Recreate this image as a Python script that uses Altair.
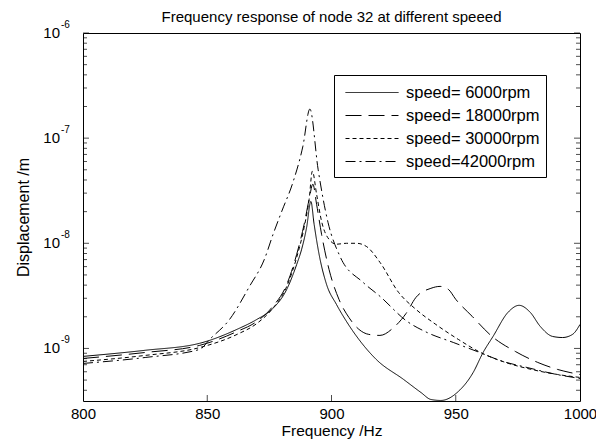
import altair as alt
import pandas as pd

speeds = ["speed= 6000rpm", "speed= 18000rpm", "speed= 30000rpm", "speed=42000rpm"]

f6 = [800, 825, 847, 862, 870, 876, 882, 886, 888, 890, 891.7, 893, 895, 898, 902, 906, 911, 918,
      929, 936, 940, 944, 951, 957, 961, 965, 971, 975.5, 980, 984, 989, 993, 997, 1000]
v6 = [8.4e-10, 9.6e-10, 1.12e-9, 1.52e-9, 1.89e-9, 2.35e-9, 3.65e-9, 6.3e-9, 8.8e-9, 1.42e-8, 2.5e-8,
      1.52e-8, 7.86e-9, 4.07e-9, 2.62e-9, 1.81e-9, 1.22e-9, 7.86e-10, 5.07e-10, 3.81e-10, 3.27e-10,
      3.2e-10, 3.89e-10, 5.9e-10, 9.15e-10, 1.30e-9, 2.2e-9, 2.57e-9, 2.2e-9, 1.62e-9, 1.30e-9,
      1.27e-9, 1.36e-9, 1.69e-9]

f18 = [800, 825, 847, 862, 870, 876, 882, 886, 889, 891, 892.5, 894, 896, 899, 903, 907, 911, 915,
       919.5, 925, 930, 934, 940, 943.7, 947, 950, 956.6, 964.6, 974, 983, 991, 996, 1000]
v18 = [8.03e-10, 9.15e-10, 1.07e-9, 1.45e-9, 1.81e-9, 2.45e-9, 4.07e-9, 7.86e-9, 1.52e-8, 2.62e-8,
       3.65e-8, 2.35e-8, 1.22e-8, 5.65e-9, 2.93e-9, 1.97e-9, 1.52e-9, 1.36e-9, 1.33e-9, 1.58e-9,
       2.15e-9, 3.06e-9, 3.73e-9, 3.89e-9, 3.65e-9, 2.93e-9, 2.02e-9, 1.30e-9, 9.35e-10, 7.36e-10,
       6.31e-10, 5.9e-10, 5.65e-10]

f30 = [800, 825, 847, 862, 870, 876, 882, 886, 889, 891, 892.3, 894, 896, 899, 902, 906, 910, 914,
       919.5, 927, 934, 942, 951, 960, 970, 980.5, 991, 1000]
v30 = [7.52e-10, 8.58e-10, 1.02e-9, 1.36e-9, 1.73e-9, 2.35e-9, 3.89e-9, 7.36e-9, 1.42e-8, 2.62e-8,
       4.85e-8, 2.93e-8, 1.62e-8, 1.09e-8, 9.8e-9, 1.0e-8, 1.0e-8, 9.35e-9, 6.59e-9, 3.41e-9,
       2.35e-9, 1.69e-9, 1.22e-9, 9.15e-10, 7.36e-10, 6.31e-10, 5.65e-10, 5.3e-10]

f42 = [800, 825, 847, 851, 859, 867, 873, 876.5, 880, 884.5, 888.5, 891.3, 894.6, 898.6, 903.4,
       912.7, 919.5, 930.4, 938.4, 949, 958.6, 969, 978.7, 990.7, 1000]
v42 = [7.2e-10, 8.2e-10, 9.8e-10, 1.22e-9, 1.89e-9, 3.89e-9, 7.05e-9, 1.22e-8, 2.02e-8, 3.81e-8,
       8.4e-8, 1.89e-7, 5.07e-8, 1.58e-8, 7.52e-9, 4.25e-9, 3.13e-9, 1.81e-9, 1.42e-9, 1.14e-9,
       9.35e-10, 7.52e-10, 6.59e-10, 5.65e-10, 5.18e-10]

x_tick_labels = [800, 850, 900, 950, 1000]
x_inner_ticks = [850, 900, 950]
y_major = [1e-9, 1e-8, 1e-7, 1e-6]
y_exp = ["-9", "-8", "-7", "-6"]
y_minor = [m * 10.0 ** e for e in (-10, -9, -8, -7) for m in range(2, 10) if m * 10.0 ** e > 3.2e-10]

rows = []
for name, fs, vs in zip(speeds, [f6, f18, f30, f42], [v6, v18, v30, v42]):
    for f, v in zip(fs, vs):
        rows.append({"speed": name, "freq": f, "disp": v})
df = pd.DataFrame(rows)

W, H = 497, 368
FONT = "Liberation Sans"
xs = alt.Scale(domain=[800, 1000], nice=False)
ys = alt.Scale(type="log", domain=[10 ** -9.5, 1e-6], nice=False)

xaxis = alt.Axis(values=x_tick_labels, format="d", ticks=False, domain=False, grid=False,
                 labelFontSize=15, labelFont=FONT, labelColor="black", labelPadding=5,
                 labelFlush=False, labelOverlap=False,
                 title="Frequency /Hz", titleFont=FONT, titleFontSize=15.5,
                 titleFontWeight="normal", titleColor="black", titlePadding=2)
yaxis = alt.Axis(labels=False, ticks=False, domain=False, grid=False,
                 title="Displacement /m", titleFont=FONT, titleFontSize=16,
                 titleFontWeight="normal", titleColor="black", titlePadding=52)

X = lambda: alt.X("freq:Q", scale=xs, axis=xaxis)
Y = lambda: alt.Y("disp:Q", scale=ys, axis=yaxis)

lines = alt.Chart(df).mark_line(color="black", strokeWidth=1, clip=True, interpolate="monotone").encode(
    x=X(), y=Y(),
    strokeDash=alt.StrokeDash(
        "speed:N",
        scale=alt.Scale(domain=speeds, range=[[1, 0], [16, 7], [4, 3], [10, 4, 2, 4]]),
        legend=alt.Legend(title=None, orient="none", legendX=251, legendY=42,
                          symbolType="M-0.571,0L4.476,0", symbolSize=441, symbolStrokeWidth=1,
                          symbolStrokeColor="black", symbolFillColor="transparent",
                          labelFont=FONT, labelFontSize=16.5,
                          labelColor="black", labelOffset=43.5, padding=6.5, rowPadding=3,
                          strokeColor="black", fillColor="white"),
    ),
)

ymaj_df = pd.DataFrame({"disp": y_major, "e": y_exp})
ymin_df = pd.DataFrame({"disp": y_minor})
xt_df = pd.DataFrame({"freq": x_inner_ticks})

def ytick(data, xpos, size):
    return alt.Chart(data).mark_tick(orient="horizontal", color="black", thickness=1, size=size).encode(
        y=Y(), x=alt.value(xpos))

ticks = [
    ytick(ymaj_df, 3, 6), ytick(ymin_df, 2, 4),
    ytick(ymaj_df, W - 3, 6), ytick(ymin_df, W - 2, 4),
    alt.Chart(xt_df).mark_tick(orient="vertical", color="black", thickness=1, size=6).encode(
        x=X(), y=alt.value(H - 3)),
]

ten = alt.Chart(ymaj_df).mark_text(text="10", align="right", baseline="middle", fontSize=15,
                                   font=FONT, color="black").encode(y=Y(), x=alt.value(-23))
expo = alt.Chart(ymaj_df).mark_text(align="left", baseline="middle", fontSize=10, dy=-8,
                                    font=FONT, color="black").encode(
    y=Y(), x=alt.value(-22), text="e:N")

chart = alt.layer(lines, *ticks, ten, expo).properties(
    width=W, height=H,
    title=alt.Title("Frequency response of node 32 at different speeed", font=FONT, fontSize=15,
                    fontWeight="normal", color="black", offset=0, dy=5, anchor="middle"),
    padding={"left": 75, "top": 25, "right": 16, "bottom": 39},
    autosize=alt.AutoSizeParams(type="none"),
).configure_view(stroke="black", strokeWidth=1)

chart.save("out.html", embed_options={"renderer": "svg", "actions": False})
